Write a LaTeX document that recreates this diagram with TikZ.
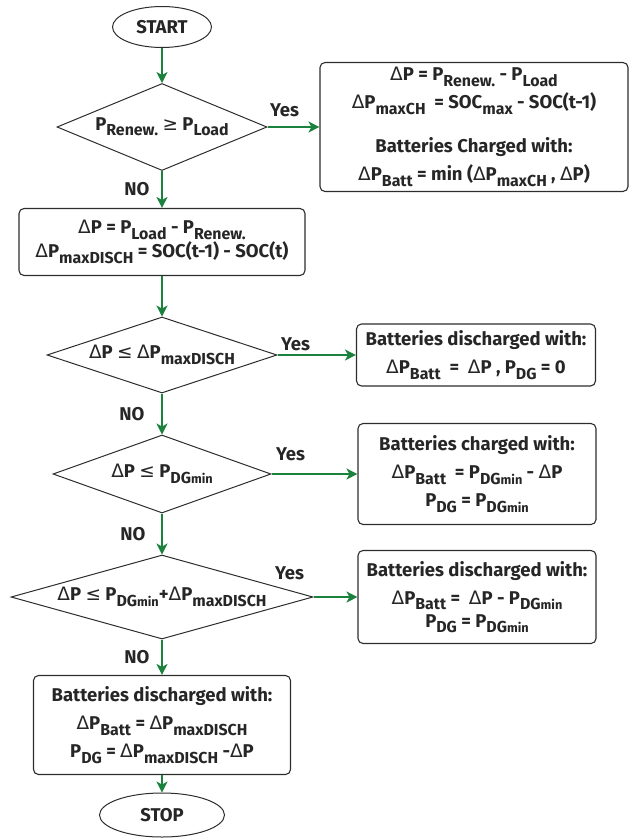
\documentclass[tikz,border=0pt]{standalone}
\usepackage{fontspec}
\setmainfont{Fira Sans}
\newfontfamily\symfont{DejaVu Sans}
\usetikzlibrary{shapes.geometric,arrows.meta,positioning}
\definecolor{flowGreen}{RGB}{26,130,60}
\definecolor{flowText}{RGB}{38,38,38}
\definecolor{flowLine}{RGB}{45,45,45}
\newcommand{\dlt}{{\symfont\mdseries Δ}}
\newcommand{\sbs}[1]{\raisebox{-0.55ex}{\scalebox{0.86}{#1}}}
\newcommand{\smin}{\scalebox{0.8}{min}}

\begin{document}
\begin{tikzpicture}[
  x=1pt, y=-1pt,
  every node/.style={font=\fontsize{18.5}{28}\selectfont\bfseries, text=flowText},
  term/.style={draw=flowLine, ellipse, line width=1pt, inner sep=0pt},
  decision/.style={draw=flowLine, diamond, line width=1pt, inner sep=0pt},
  procbox/.style={draw=flowLine, rounded corners=5pt, line width=1.1pt, align=center,
                  inner sep=0pt},
  flow/.style={-{Stealth[length=11pt,width=11pt,inset=3pt]}, draw=flowGreen, line width=1.3pt},
  yes/.style={inner sep=0pt},
  no/.style={inner sep=0pt, left=12pt}
]
\useasboundingbox (0,0) rectangle (630,838);

\node[term, minimum width=99pt, minimum height=41pt] (start) at (162,27) {START};

\node[decision, minimum width=210pt, minimum height=87pt,
      label=center:{P\sbs{Renew.} {\symfont\mdseries ≥} P\sbs{Load}}] (cRenew) at (162,127) {};
\node[procbox, minimum width=308pt, minimum height=129pt] (bCharge) at (474,127)
     {\dlt P = P\sbs{Renew.} - P\sbs{Load}\\
      \dlt P\sbs{maxCH}~~= SOC\sbs{max} - SOC(t-1)\\[16pt]
      Batteries Charged with:\\
      \dlt P\sbs{Batt} = min (\dlt P\sbs{maxCH} , \dlt P)};

\node[procbox, minimum width=286pt, minimum height=67pt] (bDelta) at (162,242)
     {\dlt P = P\sbs{Load} - P\sbs{Renew.}\\[-4pt]
      \dlt P\sbs{maxDISCH} = SOC(t-1) - SOC(t)};

\node[decision, minimum width=230pt, minimum height=76pt,
      label=center:{\dlt P {\symfont\mdseries ≤} \dlt P\sbs{maxDISCH}}] (cDisch) at (162,355) {};
\node[procbox, minimum width=239pt, minimum height=62pt] (bDisch) at (476,355)
     {Batteries discharged with:\\
      \dlt P\sbs{Batt}~~=~~\dlt P , P\sbs{DG} = 0};

\node[decision, minimum width=218pt, minimum height=78pt,
      label=center:{\dlt P {\symfont\mdseries ≤} P\sbs{DG\smin}}] (cDGmin) at (162,474) {};
\node[procbox, minimum width=238pt, minimum height=101pt] (bDGmin) at (477,474)
     {Batteries charged with:\\
      \dlt P\sbs{Batt}~~= P\sbs{DG\smin} - \dlt P\\
      P\sbs{DG} = P\sbs{DG\smin}};

\node[decision, minimum width=302pt, minimum height=84pt,
      label=center:{\dlt P {\symfont\mdseries ≤} P\sbs{DG\smin}+\dlt P\sbs{maxDISCH}}] (cSum) at (162,597) {};
\node[procbox, minimum width=238pt, minimum height=93pt] (bSum) at (477,597)
     {Batteries discharged with:\\
      \dlt P\sbs{Batt} = ~\dlt P - P\sbs{DG\smin}\\[-5pt]
      P\sbs{DG} = P\sbs{DG\smin}};

\node[procbox, minimum width=257pt, minimum height=99pt] (bMax) at (162,725)
     {Batteries discharged with:\\
      \dlt P\sbs{Batt} = \dlt P\sbs{maxDISCH}\\
      P\sbs{DG} = \dlt P\sbs{maxDISCH} -\dlt P};

\node[term, minimum width=125pt, minimum height=44pt] (stop) at (162,815) {STOP};

% main line
\draw[flow] (start) -- (cRenew);
\draw[flow] (cRenew) -- (bDelta) node[midway, no] {NO};
\draw[flow] (bDelta) -- (cDisch);
\draw[flow] (cDisch) -- (cDGmin) node[midway, no, left=17pt] {NO};
\draw[flow] (cDGmin) -- (cSum) node[midway, no, left=16pt] {NO};
\draw[flow] (cSum) -- (bMax) node[midway, no] {NO};
\draw[flow] (bMax) -- (stop);

% yes branches
\draw[flow] (cRenew) -- (bCharge) node[at start, yes, xshift=17pt, yshift=17pt] {Yes};
\draw[flow] (cDisch) -- (bDisch) node[at start, yes, xshift=18pt, yshift=11pt] {Yes};
\draw[flow] (cDGmin) -- (bDGmin) node[at start, yes, xshift=19pt, yshift=20pt] {Yes};
\draw[flow] (cSum) -- (bSum) node[at start, yes, xshift=-24pt, yshift=24pt] {Yes};
\end{tikzpicture}
\end{document}
